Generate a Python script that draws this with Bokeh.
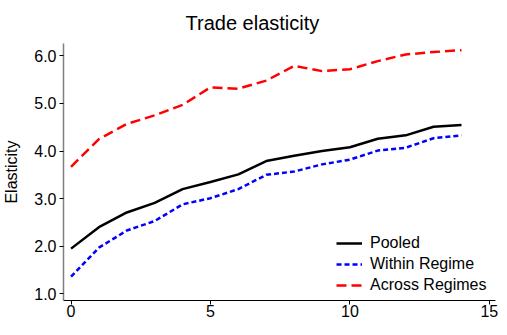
from bokeh.plotting import figure
from bokeh.models import Range1d, FixedTicker, NumeralTickFormatter, Legend, LegendItem, Title
from bokeh.embed import file_html
from bokeh.resources import INLINE

horizon = list(range(15))
pooled = [1.95, 2.40, 2.71, 2.91, 3.20, 3.35, 3.51, 3.79, 3.90, 4.00, 4.08, 4.26, 4.33, 4.51, 4.55]
within = [1.36, 1.97, 2.33, 2.53, 2.88, 3.01, 3.20, 3.50, 3.57, 3.72, 3.82, 4.01, 4.07, 4.27, 4.33]
across = [3.67, 4.25, 4.57, 4.75, 4.97, 5.34, 5.31, 5.48, 5.79, 5.68, 5.72, 5.89, 6.03, 6.08, 6.12]
series_names = ["Pooled", "Within Regime", "Across Regimes"]
x_ticks = [0, 5, 10, 15]
y_ticks = [1.0, 2.0, 3.0, 4.0, 5.0, 6.0]

FONT = "Liberation Sans"

p = figure(width=499, height=319, output_backend="svg", toolbar_location=None,
           x_range=Range1d(-0.27, 15.22), y_range=Range1d(0.86, 6.26),
           min_border_left=57, min_border_right=4, min_border_top=0, min_border_bottom=0)
p.title = Title(text="Trade elasticity", align="left", offset=122,
                text_font=FONT, text_font_size="20px", text_font_style="normal",
                text_color="black", standoff=19)

r1 = p.line(horizon, pooled, line_color="black", line_width=2.5)
r2 = p.line(horizon, within, line_color="#0000ff", line_width=2.5, line_dash="5 3")
r3 = p.line(horizon, across, line_color="#ff0000", line_width=2.5, line_dash="10 5")

p.xgrid.visible = False
p.ygrid.visible = False
p.outline_line_color = None
p.background_fill_color = "white"
p.border_fill_color = "white"

xa = p.xaxis[0]
xa.ticker = FixedTicker(ticks=x_ticks)
xa.major_label_text_font = FONT
xa.major_label_text_font_size = "16px"
xa.major_label_text_color = "black"
xa.axis_line_color = "black"
xa.axis_line_width = 1
xa.major_tick_line_color = "black"
xa.major_tick_out = 4
xa.major_tick_in = 0
xa.minor_tick_line_color = None
xa.major_label_standoff = 0

ya = p.yaxis[0]
ya.ticker = FixedTicker(ticks=y_ticks)
ya.formatter = NumeralTickFormatter(format="0.0")
ya.major_label_text_font = FONT
ya.major_label_text_font_size = "16px"
ya.major_label_text_color = "black"
ya.axis_line_color = "#808080"
ya.axis_line_width = 1.5
ya.major_tick_line_color = "black"
ya.major_tick_out = 4
ya.major_tick_in = 0
ya.minor_tick_line_color = None
ya.major_label_standoff = 3
ya.axis_label = "Elasticity"
ya.axis_label_text_font = FONT
ya.axis_label_text_font_size = "16px"
ya.axis_label_text_font_style = "normal"
ya.axis_label_text_color = "black"
ya.axis_label_standoff = 11

legend = Legend(items=[LegendItem(label=series_names[0], renderers=[r1]),
                       LegendItem(label=series_names[1], renderers=[r2]),
                       LegendItem(label=series_names[2], renderers=[r3])],
                location=(273, 6), glyph_width=26, glyph_height=18, label_height=18,
                spacing=3, padding=0, margin=0, label_standoff=8,
                label_text_font=FONT, label_text_font_size="16px",
                label_text_color="black",
                border_line_color=None, background_fill_alpha=0)
p.add_layout(legend, "center")

open("out.html", "w").write(file_html(p, INLINE))
